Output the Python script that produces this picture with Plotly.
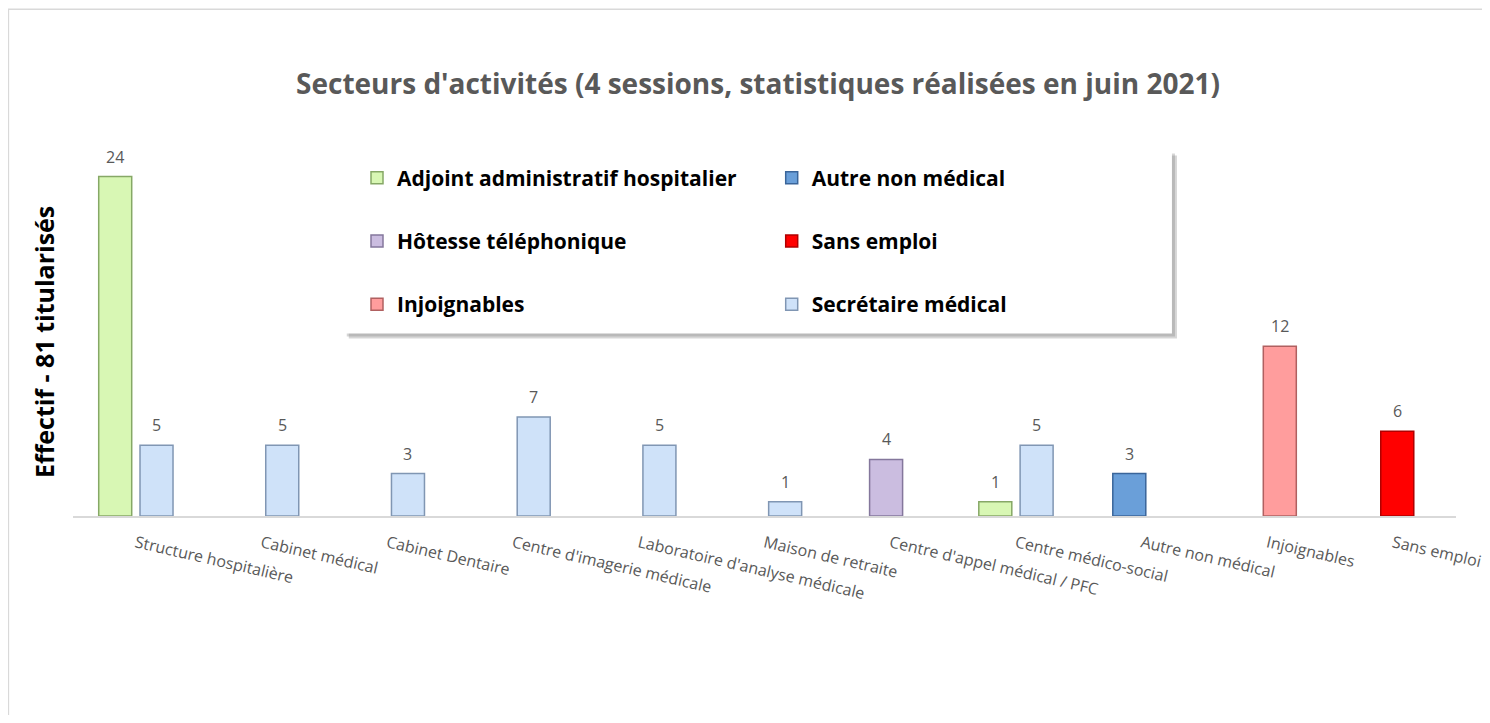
import plotly.graph_objects as go

categories = ["Structure hospitalière", "Cabinet médical", "Cabinet Dentaire",
              "Centre d'imagerie médicale", "Laboratoire d'analyse médicale",
              "Maison de retraite", "Centre d'appel médical / PFC",
              "Centre médico-social", "Autre non médical", "Injoignables", "Sans emploi"]

adjoint = [24, None, None, None, None, None, None, 1, None, None, None]
autre = [None, None, None, None, None, None, None, None, 3, None, None]
hotesse = [None, None, None, None, None, None, 4, None, None, None, None]
sans_emploi = [None, None, None, None, None, None, None, None, None, None, 6]
injoignables = [None, None, None, None, None, None, None, None, None, 12, None]
secretaire = [5, 5, 3, 7, 5, 1, None, 5, None, None, None]

series = [
    ("Adjoint administratif hospitalier", adjoint, "#d8f7b4", "#86a866", "legend"),
    ("Autre non médical", autre, "#6a9fd9", "#3a659a", "legend2"),
    ("Hôtesse téléphonique", hotesse, "#cbbde0", "#84779c", "legend"),
    ("Sans emploi", sans_emploi, "#ff0000", "#b00000", "legend2"),
    ("Injoignables", injoignables, "#ff9d9d", "#b06060", "legend"),
    ("Secrétaire médical", secretaire, "#cfe2f9", "#8096b3", "legend2"),
]

# page body has an 8px margin: figure coordinates = screen - 8
OFF = 8
W, H = 1490 - 2 * OFF, 723 - 2 * OFF
PL, PR = 73.3 - OFF, 1456.0 - OFF
PB = 515.7 - OFF
YMAX = 28
PT = PB - YMAX * 14.15
bar_w = 33 / 125.7
step = 8.26 / 125.7
start = -37.15 / 125.7

fig = go.Figure()
annotations = []
for i, (name, vals, fill, edge, leg) in enumerate(series):
    off = start + i * step
    fig.add_trace(go.Bar(
        x=categories, y=vals, name=name,
        width=bar_w, offset=off,
        marker=dict(color=fill, line=dict(color=edge, width=1.5)),
        legend=leg, legendgroup=name, hoverinfo="x+y+name",
    ))
    for k, v in enumerate(vals):
        if v is None:
            continue
        annotations.append(dict(
            x=k + off + bar_w / 2, y=v, xref="x", yref="y", text=str(v), showarrow=False,
            yanchor="bottom", xanchor="center", yshift=7,
            font=dict(family="Open Sans", size=16, color="#595959")))


def px_x(p):
    return (p - OFF - PL) / (PR - PL)


def px_y(p):
    return (PB - (p - OFF)) / (PB - PT)


shapes = [
    # outer chart border
    dict(type="rect", xref="paper", yref="paper", x0=px_x(8.7), y0=px_y(760), x1=px_x(1520), y1=px_y(8.7),
         line=dict(color="#d9d9d9", width=1.5), fillcolor="rgba(0,0,0,0)", layer="below"),
    # legend shadow
    dict(type="rect", xref="paper", yref="paper", x0=px_x(349), y0=px_y(338), x1=px_x(1177), y1=px_y(155),
         line=dict(width=0), fillcolor="rgba(120,120,120,0.3)", layer="below"),
    dict(type="rect", xref="paper", yref="paper", x0=px_x(347), y0=px_y(336), x1=px_x(1175), y1=px_y(153),
         line=dict(width=0), fillcolor="rgba(120,120,120,0.3)", layer="below"),
    # legend box
    dict(type="rect", xref="paper", yref="paper", x0=px_x(345), y0=px_y(333), x1=px_x(1172), y1=px_y(150),
         line=dict(width=0), fillcolor="white", layer="below"),
]

annotations.append(dict(
    text="Effectif - 81 titularisés", textangle=-90, showarrow=False,
    xref="paper", yref="paper", x=px_x(45), y=px_y(342), xanchor="center", yanchor="middle",
    font=dict(family="Open Sans", size=25, color="black", weight="bold")))

legend_common = dict(
    xref="container", yref="container", yanchor="top", xanchor="left",
    bgcolor="rgba(0,0,0,0)", borderwidth=0, tracegroupgap=33,
    font=dict(family="Open Sans", size=21, color="black", weight="bold"),
    itemclick=False,
)

fig.update_layout(
    width=W, height=H,
    margin=dict(l=PL, r=W - PR, t=PT, b=H - PB, pad=0, autoexpand=False),
    paper_bgcolor="white", plot_bgcolor="white",
    barmode="overlay",
    showlegend=True,
    title=dict(text="Secteurs d'activités (4 sessions, statistiques réalisées en juin 2021)",
               x=(758 - OFF) / W, xanchor="center", y=1 - (84 - OFF) / H, yanchor="middle",
               font=dict(family="Open Sans", size=28, color="#595959", weight="bold")),
    xaxis=dict(type="category", range=[-0.5, 10.5], showline=True, linecolor="#d9d9d9", linewidth=2,
               ticks="", showgrid=False, tickangle=13, automargin=False, ticklabelstandoff=10,
               tickfont=dict(family="Open Sans", size=16, color="#595959")),
    yaxis=dict(range=[0, YMAX], showticklabels=False, showgrid=False, zeroline=False, showline=False,
               ticks="", automargin=False),
    legend=dict(x=(357 - OFF) / W, y=1 - (157.5 - OFF) / H, **legend_common),
    legend2=dict(x=(771.7 - OFF) / W, y=1 - (157.5 - OFF) / H, **legend_common),
    shapes=shapes,
    annotations=annotations,
)

fig.write_html("out.html")
